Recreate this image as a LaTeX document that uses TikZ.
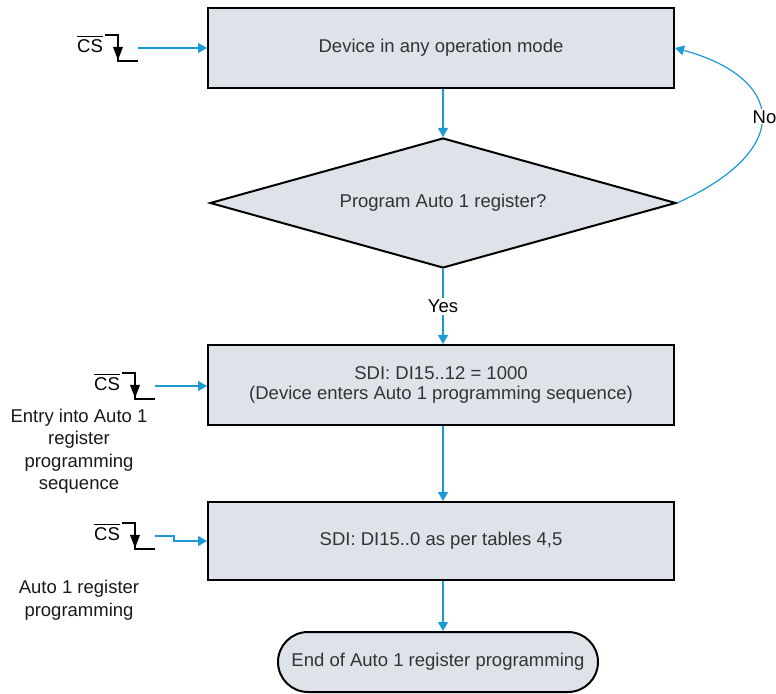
\documentclass[tikz,border=0pt]{standalone}
\usepackage{fontspec}
\setmainfont{Liberation Sans}
\usetikzlibrary{shapes.geometric,arrows.meta}

\definecolor{flowblue}{RGB}{27,154,214}
\definecolor{boxgray}{RGB}{222,226,233}
\definecolor{txtgray}{RGB}{51,51,51}

\begin{document}
\begin{tikzpicture}[x=0.5pt,y=-0.5pt,
		every node/.style={font=\fontsize{9.25}{11.25}\selectfont},
		box/.style={draw=black, line width=1pt, fill=boxgray, text=txtgray, minimum width=233pt, minimum height=40pt, inner sep=0pt, align=center, font=\fontsize{9.25}{10}\selectfont},
		decision/.style={diamond, aspect=3.58, draw=black, line width=1pt, fill=boxgray, text=txtgray, minimum width=233pt, minimum height=65pt, inner sep=0pt},
		terminal/.style={rectangle, rounded corners=15pt, draw=black, line width=1pt, fill=boxgray, text=txtgray, minimum width=160pt, minimum height=30pt, inner sep=0pt},
		flow/.style={draw=flowblue, line width=0.6pt, -{Triangle[length=4.5pt,width=5pt]}},
		note/.style={align=center, text=black!90},
		signal/.style={line width=0.6pt}]
		
		\useasboundingbox (0,0) rectangle (776,694);
		
		% Flow boxes
		\node[box] (mode) at (441,48) {Device in any operation mode};
		\node[decision] (ask) at (443,203) {Program Auto 1 register?};
		\node[box] (entry) at (441,385) {SDI: DI15..12 = 1000\\(Device enters Auto 1 programming sequence)};
		\node[box, minimum height=39pt] (prog) at (441,541) {SDI: DI15..0 as per tables 4,5};
		\node[terminal] (done) at (438,662) {End of Auto 1 register programming};
		
		% Main flow
		\draw[flow] (mode.south -| ask.north) -- (ask.north);
		\draw[flow] (ask.south) -- node[fill=white, inner sep=1pt] {Yes} (ask.south |- entry.north);
		\draw[flow] (entry.south -| ask.south) -- (ask.south |- prog.north);
		\draw[flow] (prog.south -| ask.south) -- (ask.south |- done.north);
		
		% No loop
		\draw[flow] (ask.east) .. controls (795,150) and (785,78) .. node[pos=0.5, xshift=1.5pt, fill=white, inner sep=0.5pt] (no) {No} (mode.east);
		
		% CS falling edges
		\foreach \n/\cx/\sy in {1/105/35, 2/122/373, 3/122/523} {
			\node[inner sep=0pt] (cs\n) at (\cx-15,\sy+9) {$\overline{\mbox{CS}}$};
			\draw[signal] (\cx,\sy) -- ++(13,0) -- ++(0,26) -- ++(20,0);
			\fill (\cx+8,\sy+12) -- (\cx+18,\sy+12) -- (\cx+13,\sy+25) -- cycle;
			\coordinate (sig\n) at (\cx+33,\sy+13);
		}
		
		\draw[flow] (sig1) -- (sig1 -| mode.west);
		\draw[flow] (sig2) -- (sig2 -| entry.west);
		\draw[flow] (sig3) -- ++(19,0) |- (prog.west);
		
		% Side notes
		\node[note] (entrytxt) at (79,451) {Entry into Auto 1\\register\\programming\\sequence};
		\node[note] (progtxt) at (79,600) {Auto 1 register\\programming};
		
	\end{tikzpicture}
\end{document}
